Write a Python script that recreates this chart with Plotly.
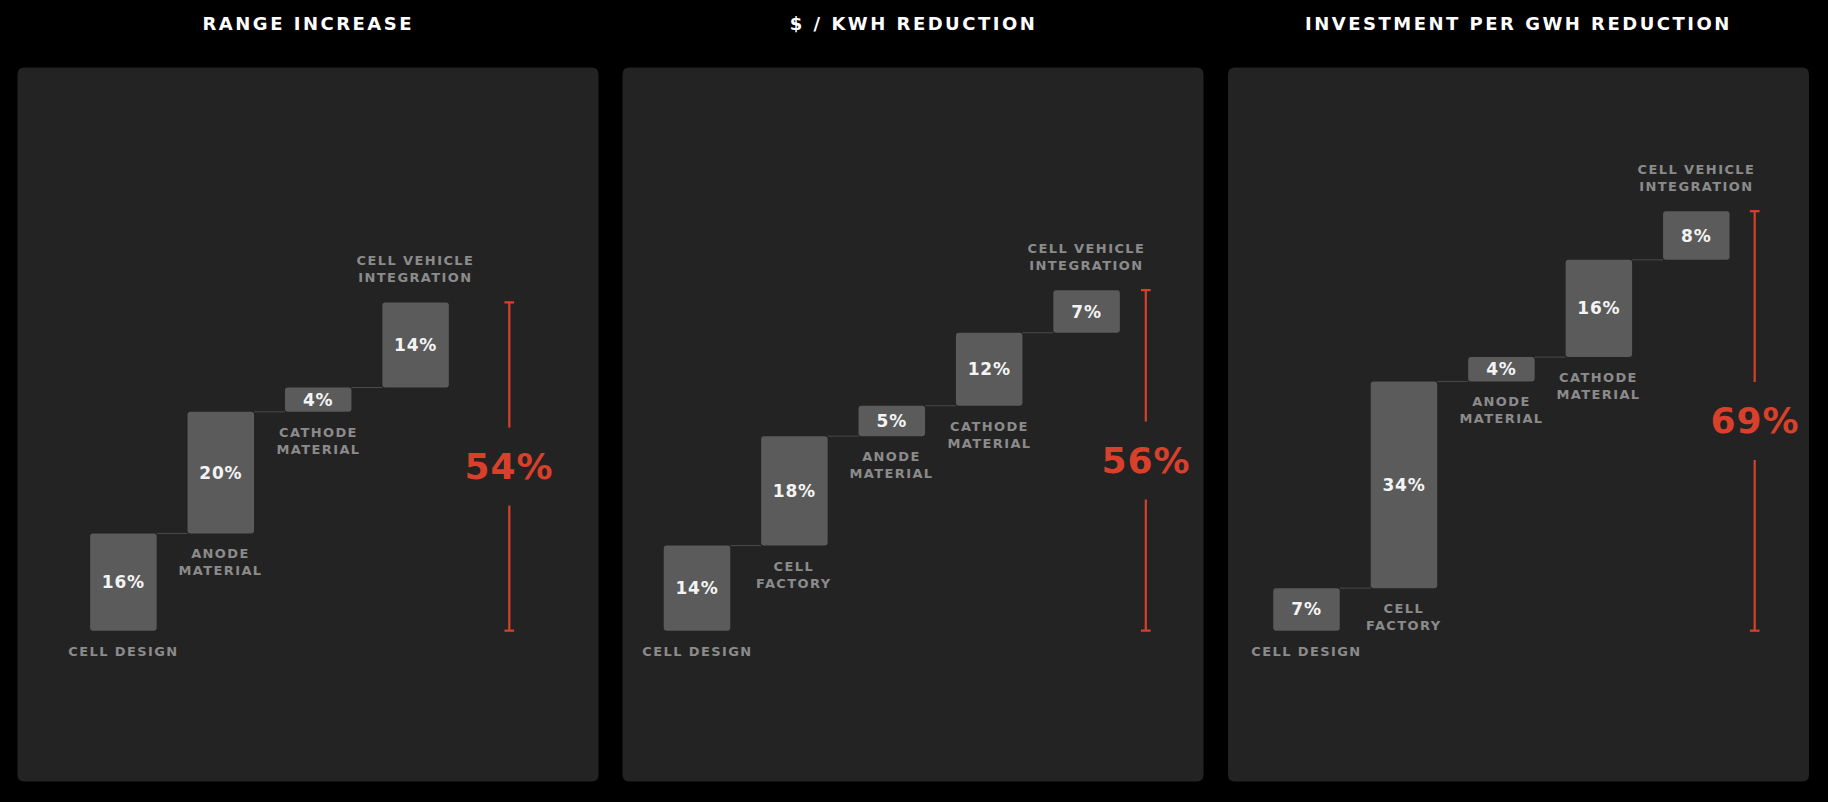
import plotly.graph_objects as go

W, H = 1828, 802

# ---------------- data ----------------
titles = ["RANGE INCREASE", "$ / KWH REDUCTION", "INVESTMENT PER GWH REDUCTION"]

range_labels = ["CELL DESIGN", "ANODE<br>MATERIAL", "CATHODE<br>MATERIAL", "CELL VEHICLE<br>INTEGRATION"]
range_values = [16, 20, 4, 14]

kwh_labels = ["CELL DESIGN", "CELL<br>FACTORY", "ANODE<br>MATERIAL", "CATHODE<br>MATERIAL", "CELL VEHICLE<br>INTEGRATION"]
kwh_values = [14, 18, 5, 12, 7]

gwh_labels = ["CELL DESIGN", "CELL<br>FACTORY", "ANODE<br>MATERIAL", "CATHODE<br>MATERIAL", "CELL VEHICLE<br>INTEGRATION"]
gwh_values = [7, 34, 4, 16, 8]

# ---------------- layout constants (pixels) ----------------
panels = [
    dict(left=17.5, right=598.5, start=123.4, step=97.4, bracket=509.3),
    dict(left=622.5, right=1203.5, start=697.0, step=97.4, bracket=1145.8),
    dict(left=1228.0, right=1809.0, start=1306.5, step=97.45, bracket=1754.7),
]
PANEL_TOP, PANEL_BOTTOM = 67.5, 781.5
BASE_PX, PX_PER = 630.7, 6.08
BAR_PX = 66.5

BG = "#000000"
PANEL = "#232323"
BAR = "#5b5b5b"
CONN = "#4a4a4a"
LABEL = "#8b8b8b"
RED = "#d9402b"
FONT = "DejaVu Sans"

series = [(range_labels, range_values), (kwh_labels, kwh_values), (gwh_labels, gwh_values)]

fig = go.Figure()
annotations = []
shapes = []


def rrect(l, t, r, b, rad):
    x0, x1 = l / W, r / W
    y0, y1 = 1 - b / H, 1 - t / H
    rx, ry = rad / W, rad / H
    return (f"M{x0+rx},{y1} L{x1-rx},{y1} Q{x1},{y1} {x1},{y1-ry} "
            f"L{x1},{y0+ry} Q{x1},{y0} {x1-rx},{y0} L{x0+rx},{y0} "
            f"Q{x0},{y0} {x0},{y0+ry} L{x0},{y1-ry} Q{x0},{y1} {x0+rx},{y1} Z")


layout_axes = {}
for p, (title, (labels, values), pn) in enumerate(zip(titles, series, panels)):
    xa = "x" if p == 0 else f"x{p+1}"
    n = len(values)
    idx = list(range(n))
    bases = [sum(values[:i]) for i in range(n)]
    total = sum(values)
    step = pn["step"]
    bw = BAR_PX / step

    # panel background
    shapes.append(dict(type="path", xref="paper", yref="paper",
                       path=rrect(pn["left"], PANEL_TOP, pn["right"], PANEL_BOTTOM, 7),
                       fillcolor=PANEL, line=dict(width=0), layer="below"))

    # connectors
    cx, cy = [], []
    for i in range(n - 1):
        lvl = bases[i] + values[i]
        cx += [i + bw / 2, i + 1 - bw / 2, None]
        cy += [lvl, lvl, None]
    fig.add_trace(go.Scatter(x=cx, y=cy, mode="lines", xaxis=xa, yaxis="y",
                             line=dict(color=CONN, width=1), hoverinfo="skip", showlegend=False))

    # bars
    fig.add_trace(go.Bar(x=idx, y=values, base=bases, width=bw, xaxis=xa, yaxis="y",
                         marker=dict(color=BAR, line=dict(width=0), cornerradius=3),
                         text=[f"{v}%" for v in values], textposition="inside",
                         insidetextanchor="middle", textangle=0, constraintext="none",
                         textfont=dict(family=FONT, size=17, color="#f4f4f4", weight="bold"),
                         hoverinfo="skip", showlegend=False))

    # bracket
    bx = (pn["bracket"] - pn["start"]) / step
    c = 4.85 / step
    g = 39 / PX_PER
    mid = total / 2
    fig.add_trace(go.Scatter(
        x=[bx, bx, None, bx, bx, None, bx - c, bx + c, None, bx - c, bx + c],
        y=[0, mid - g, None, mid + g, total, None, 0, 0, None, total, total],
        mode="lines", xaxis=xa, yaxis="y", line=dict(color=RED, width=2.2),
        hoverinfo="skip", showlegend=False))
    annotations.append(dict(x=bx, y=mid, xref=xa, yref="y", text=f"{total}%",
                            showarrow=False, xanchor="center", yanchor="middle",
                            font=dict(family=FONT, size=36, color=RED, weight="bold")))

    # category labels
    for i, lab in enumerate(labels):
        if i == n - 1:
            annotations.append(dict(x=i, y=bases[i] + values[i], xref=xa, yref="y", text=lab,
                                    showarrow=False, xanchor="center", yanchor="bottom", yshift=15,
                                    align="center",
                                    font=dict(family=FONT, size=13, color=LABEL, weight="bold")))
        else:
            annotations.append(dict(x=i, y=bases[i], xref=xa, yref="y", text=lab,
                                    showarrow=False, xanchor="center", yanchor="top", yshift=-11,
                                    align="center",
                                    font=dict(family=FONT, size=13, color=LABEL, weight="bold")))

    # panel title
    annotations.append(dict(x=(pn["left"] + pn["right"]) / 2 / W, y=1 - 23 / H, xref="paper", yref="paper",
                            text=title, showarrow=False, xanchor="center", yanchor="middle",
                            font=dict(family=FONT, size=18, color="#ffffff", weight="bold")))

    key = "xaxis" if p == 0 else f"xaxis{p+1}"
    layout_axes[key] = dict(domain=[pn["left"] / W, pn["right"] / W],
                            range=[(pn["left"] - pn["start"]) / step, (pn["right"] - pn["start"]) / step],
                            visible=False, showgrid=False, zeroline=False, anchor="y", fixedrange=True)

fig.update_layout(
    width=W, height=H, margin=dict(l=0, r=0, t=0, b=0),
    paper_bgcolor=BG, plot_bgcolor="rgba(0,0,0,0)",
    showlegend=False, barmode="overlay",
    yaxis=dict(domain=[0, 1], range=[(BASE_PX - H) / PX_PER, BASE_PX / PX_PER],
               visible=False, showgrid=False, zeroline=False, fixedrange=True),
    shapes=shapes, annotations=annotations,
    font=dict(family=FONT),
    **layout_axes,
)

css = ('text[style*="font-size: 13px"]{letter-spacing:1.4px}'
       'text[style*="font-size: 18px"]{letter-spacing:2.5px}'
       'text[style*="font-size: 17px"]{letter-spacing:0.8px}'
       'text[style*="font-size: 36px"]{letter-spacing:1px}')
post = ("var s=document.createElement('style');s.textContent='" + css +
        "';document.head.appendChild(s);")

fig.write_html("out.html", config={"displayModeBar": False}, post_script=post)
